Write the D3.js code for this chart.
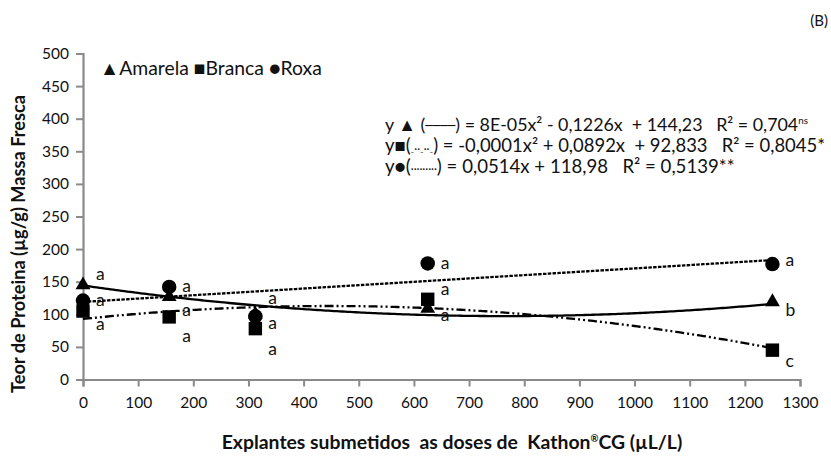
<!DOCTYPE html>
<html>
<head>
<meta charset="utf-8">
<script src="https://cdn.jsdelivr.net/npm/d3@7"></script>
<style>
  html, body { margin: 0; padding: 0; background: #fff; }
  svg { display: block; font-family: Lato, "Open Sans", sans-serif; }
  text { white-space: pre; }
</style>
</head>
<body>
<svg id="chart" width="831" height="461"></svg>
<script>
// Doses of Kathon CG (µL/L)
const doses = [0, 156.25, 312.5, 625, 1250];

// Protein content (µg/g fresh mass) per cultivar
const amarela = [145, 127, 100, 109, 119];
const branca  = [105, 96, 78, 123, 45];
const roxa    = [121, 142, 97, 178, 177];

// Regression coefficients [c2, c1, c0] for y = c2·x² + c1·x + c0
const fitAmarela = [0.00008, -0.1226, 144.23];
const fitBranca  = [-0.0001, 0.0892, 92.833];
const fitRoxa    = [0, 0.0514, 118.98];

// Mean-comparison letters and where they sit (protein value at each dose)
const lettersAmarela = ["a", "a", "a", "a", "b"];
const letterPosAmarela = [160, 105, 123.5, 97.5, 105.5];
const lettersBranca = ["a", "a", "a", "a", "c"];
const letterPosBranca = [84, 65, 46, 137.5, 27.5];
const lettersRoxa = ["a", "a", "a", "a", "a"];
const letterPosRoxa = [120.5, 142, 84.5, 177, 182];

// Axis ticks
const xTicks = d3.range(0, 1301, 100);
const yTicks = d3.range(0, 501, 50);

const svg = d3.select("#chart");
const margin = { left: 83, right: 31, top: 53.5, bottom: 81.5 };
const W = 831, H = 461;

const x = d3.scaleLinear().domain([0, 1300]).range([margin.left, W - margin.right]);
const y = d3.scaleLinear().domain([0, 500]).range([H - margin.bottom, margin.top]);

// Resize a text element's font so that its natural width is `width` px
function fitWidth(sel, width) {
  const node = sel.node();
  const fs = parseFloat(sel.style("font-size"));
  const w = node.getComputedTextLength();
  sel.style("font-size", (fs * width / w).toFixed(2) + "px");
  return sel;
}

const axisColor = "#8a8a8a";

// Y axis
const yAxis = svg.append("g")
  .attr("transform", `translate(${margin.left},0)`)
  .call(d3.axisLeft(y).tickValues(yTicks).tickSize(7).tickPadding(7).tickFormat(d3.format("d")));
// X axis
const xAxis = svg.append("g")
  .attr("transform", `translate(0,${y(0)})`)
  .call(d3.axisBottom(x).tickValues(xTicks).tickSize(7).tickPadding(10).tickFormat(d3.format("d")));

[yAxis, xAxis].forEach(g => {
  g.select(".domain").attr("stroke", axisColor).attr("stroke-width", 2.2);
  g.selectAll(".tick line").attr("stroke", axisColor).attr("stroke-width", 2);
  g.selectAll(".tick text").attr("fill", "#111").style("font-size", "15.5px")
    .style("font-family", "Lato, sans-serif");
});

// Trend curves
const curveFrom = c => d3.range(0, 1250.01, 5).map(d => [d, c[0] * d * d + c[1] * d + c[2]]);
const line = d3.line().x(d => x(d[0])).y(d => y(d[1]));

const trends = [
  { fit: fitAmarela, dash: null },
  { fit: fitBranca, dash: "9,3,2,3,2,3" },
  { fit: fitRoxa, dash: "3.5,1.3" }
];
svg.append("g").selectAll("path").data(trends).join("path")
  .attr("d", t => line(curveFrom(t.fit)))
  .attr("fill", "none")
  .attr("stroke", "#000")
  .attr("stroke-width", 2.3)
  .attr("stroke-dasharray", t => t.dash);

// Markers
const series = [
  { values: amarela, symbol: d3.symbolTriangle, size: 95 },
  { values: branca, symbol: d3.symbolSquare, size: 180 },
  { values: roxa, symbol: d3.symbolCircle, size: 165 }
];
series.forEach(s => {
  svg.append("g").selectAll("path").data(s.values).join("path")
    .attr("transform", (v, i) => `translate(${x(doses[i])},${y(v)})`)
    .attr("d", d3.symbol().type(s.symbol).size(s.size))
    .attr("fill", "#000");
});

// Letters
const letterSets = [
  { letters: lettersAmarela, pos: letterPosAmarela },
  { letters: lettersBranca, pos: letterPosBranca },
  { letters: lettersRoxa, pos: letterPosRoxa }
];
letterSets.forEach(L => {
  svg.append("g").selectAll("text").data(L.letters).join("text")
    .attr("x", (d, i) => x(doses[i]) + 13)
    .attr("y", (d, i) => y(L.pos[i]) + 5)
    .style("font-size", "17.5px")
    .attr("fill", "#111")
    .text(d => d);
});

// Legend
fitWidth(svg.append("text")
  .attr("x", 100).attr("y", 75)
  .style("font-size", "17px")
  .attr("fill", "#111")
  .text("▲Amarela ■Branca ●Roxa"), 222);

// Regression equations
const eq = svg.append("g").attr("fill", "#111");
const eq1 = eq.append("text").attr("x", 385).attr("y", 131).style("font-size", "17px");
eq1.append("tspan").text("y ▲ (");
eq1.append("tspan").style("font-family", "DejaVu Sans").style("font-size", "0.7em").attr("dy", -1).text("────");
eq1.append("tspan").attr("dy", 1).text(") = 8E-05x² - 0,1226x  + 144,23   R² = 0,704");
eq1.append("tspan").style("font-size", "0.55em").attr("dy", -7).text("ns");
fitWidth(eq1, 423);

const eq2 = eq.append("text").attr("x", 385).attr("y", 152).style("font-size", "17px");
eq2.append("tspan").text("y■(");
eq2.append("tspan").style("font-size", "0.6em").attr("dy", 1).text("₋··₋··₋");
eq2.append("tspan").attr("dy", -1).text(") = -0,0001x² + 0,0892x  + 92,833   R² = 0,8045*");
fitWidth(eq2, 440);

const eq3 = eq.append("text").attr("x", 385).attr("y", 173).style("font-size", "17px");
eq3.append("tspan").text("y●(");
eq3.append("tspan").style("font-size", "0.6em").text("·········");
eq3.append("tspan").text(") = 0,0514x + 118,98   R² = 0,5139**");
fitWidth(eq3, 350);

// Axis titles
fitWidth(svg.append("text")
  .attr("transform", "translate(25,244) rotate(-90)")
  .attr("text-anchor", "middle")
  .style("font-size", "17px").style("font-weight", "bold")
  .attr("fill", "#111")
  .text("Teor de Proteina (µg/g) Massa Fresca"), 298);

const xt = svg.append("text")
  .attr("x", 452).attr("y", 449)
  .attr("text-anchor", "middle")
  .style("font-size", "17px").style("font-weight", "bold")
  .attr("fill", "#111");
xt.append("tspan").text("Explantes submetidos  as doses de  Kathon");
xt.append("tspan").style("font-size", "0.5em").attr("dy", -7).text("®");
xt.append("tspan").attr("dy", 7).text("CG (µL/L)");
fitWidth(xt, 461);

// Panel tag
svg.append("text")
  .attr("x", 828).attr("y", 26)
  .attr("text-anchor", "end")
  .style("font-size", "15px")
  .attr("fill", "#111")
  .text("(B)");
</script>
</body>
</html>
